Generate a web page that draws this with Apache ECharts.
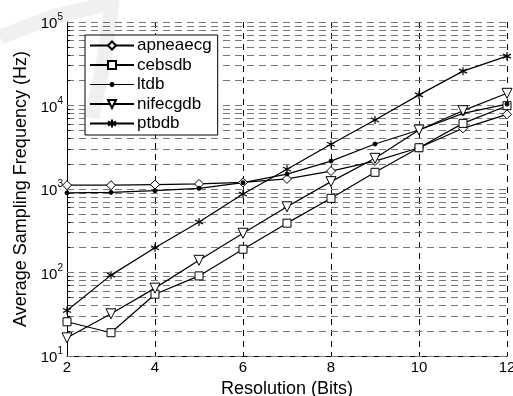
<!DOCTYPE html>
<html>
<head>
<meta charset="utf-8">
<script src="https://cdn.jsdelivr.net/npm/echarts@6/dist/echarts.min.js"></script>
<style>
  html, body { margin: 0; padding: 0; background: #fff; }
  #chart { width: 513px; height: 396px; }
</style>
</head>
<body>
<div id="chart"></div>
<script>
// resolution in bits
var bits = [2, 3, 4, 5, 6, 7, 8, 9, 10, 11, 12];
var apneaecg = [1110, 1110, 1130, 1150, 1200, 1320, 1640, 2160, 3120, 5330, 7840];
var cebsdb = [25.7, 19, 55, 91, 190, 390, 773, 1585, 3120, 6110, 9950];
var ltdb = [900, 910, 955, 1020, 1190, 1510, 2160, 3460, 5090, 8060, 10400];
var nifecgdb = [16.5, 32, 65, 140, 295, 612, 1225, 2330, 5090, 8670, 14000];
var ptbdb = [35, 93, 198, 403, 870, 1720, 3430, 6700, 13400, 25800, 39000];

// log gridlines: 1..10 of every decade
var gridVals = [];
var minorVals = [];
for (var d = 10; d < 100000; d *= 10) {
  for (var k = 1; k <= 10; k++) {
    gridVals.push(d * k);
    if (k > 1 && k < 10) minorVals.push(d * k);
  }
}

function pairs(arr) {
  return bits.map(function (b, i) { return [b, arr[i]]; });
}

var chart = echarts.init(document.getElementById('chart'));
var font = 'Liberation Sans, Arial, sans-serif';
var hollow = { color: '#fff', borderColor: '#000', borderWidth: 1 };
var asterisk = 'path://M0,-5L0,5M-4.33,-2.5L4.33,2.5M-4.33,2.5L4.33,-2.5';
// legend icon for ltdb: line + small dot (box 44x10)
var dotIcon = 'path://M0,5L44,5M24,5L23.4,6.4L22,7L20.6,6.4L20,5L20.6,3.6L22,3L23.4,3.6Z';

function mk(name, data, symbol, size, style, extra) {
  var s = {
    name: name,
    type: 'line',
    data: pairs(data),
    symbol: symbol,
    symbolSize: size,
    showAllSymbol: true,
    lineStyle: { color: '#000', width: 1.2 },
    itemStyle: style,
    emphasis: { disabled: true },
    z: 5
  };
  if (extra) Object.keys(extra).forEach(function (k) { s[k] = extra[k]; });
  return s;
}

var option = {
  animation: false,
  textStyle: { fontFamily: font },
  grid: { left: 67, right: 6, top: 22, bottom: 40, outerBoundsMode: 'none', containLabel: false },
  legend: {
    left: 85, top: 35,
    orient: 'vertical',
    itemWidth: 44, itemHeight: 10, itemGap: 2.5,
    padding: [2, 6, 3, 4],
    backgroundColor: '#fff',
    borderColor: '#000', borderWidth: 1,
    textStyle: { fontSize: 17, lineHeight: 16, color: '#000', fontFamily: font, padding: [0, 0, 0, -2] },
    data: [
      { name: 'apneaecg' },
      { name: 'cebsdb' },
      { name: 'ltdb', icon: dotIcon, itemStyle: { color: '#000', borderColor: '#000', borderWidth: 1.2 } },
      { name: 'nifecgdb' },
      { name: 'ptbdb' }
    ]
  },
  xAxis: {
    type: 'value',
    min: 2, max: 12, interval: 2,
    name: 'Resolution (Bits)',
    nameLocation: 'middle',
    nameGap: 17,
    nameTextStyle: { fontSize: 18, color: '#000' },
    axisLine: { lineStyle: { color: '#000' } },
    axisTick: { inside: true, length: 4, lineStyle: { color: '#000' } },
    axisLabel: { fontSize: 15, color: '#000', margin: 4 },
    splitLine: { show: true, lineStyle: { color: '#000', type: [6, 5], width: 1 } }
  },
  yAxis: {
    type: 'log',
    logBase: 10,
    min: 10, max: 100000,
    name: 'Average Sampling Frequency (Hz)',
    nameLocation: 'middle',
    nameGap: 36,
    nameTextStyle: { fontSize: 18, color: '#000' },
    axisLine: { show: true, lineStyle: { color: '#000' } },
    axisTick: { inside: true, length: 5, lineStyle: { color: '#000' } },
    splitLine: { show: false },
    axisLabel: {
      color: '#000', margin: 4,
      formatter: function (v) {
        var e = Math.round(Math.log10(v));
        return '{b|10}{s|' + e + '}';
      },
      rich: {
        b: { fontSize: 15, color: '#000', fontFamily: font, verticalAlign: 'bottom' },
        s: { fontSize: 10, color: '#000', fontFamily: font, verticalAlign: 'top', padding: [0, 0, 9, 0] }
      }
    }
  },
  graphic: [
    {
      type: 'polyline', z: 100, silent: true,
      shape: { points: [[0, 37], [55, 16], [112, 3], [104, 60], [92, 118]] },
      style: { stroke: 'rgba(0,0,0,0.06)', lineWidth: 15, lineJoin: 'round', fill: null }
    }
  ],
  series: [
    mk('apneaecg', apneaecg, 'diamond', 9, hollow, {
      markLine: {
        silent: true, symbol: 'none', z: 1,
        label: { show: false },
        lineStyle: { color: '#777', type: [7, 5], width: 1 },
        data: gridVals.map(function (v) { return { yAxis: v }; })
      }
    }),
    mk('cebsdb', cebsdb, 'rect', 8, hollow, {
      // minor ticks on the left axis
      markLine: {
        silent: true, symbol: 'none', z: 2,
        label: { show: false },
        lineStyle: { color: '#000', type: 'solid', width: 1 },
        data: minorVals.map(function (v) { return [{ coord: [2, v] }, { coord: [2.07, v] }]; })
      }
    }),
    mk('ltdb', ltdb, 'circle', 4, { color: '#000', borderColor: '#000' }),
    mk('nifecgdb', nifecgdb, 'triangle', 10, hollow, { symbolRotate: 180 }),
    mk('ptbdb', ptbdb, asterisk, 8, { color: '#000', borderColor: '#000', borderWidth: 1.2 })
  ]
};
chart.setOption(option);
</script>
</body>
</html>
